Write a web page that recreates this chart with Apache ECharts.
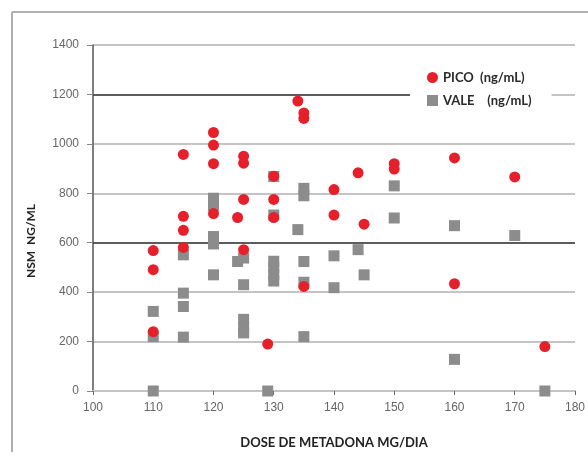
<!DOCTYPE html>
<html>
<head>
<meta charset="utf-8">
<script src="https://cdn.jsdelivr.net/npm/echarts@6/dist/echarts.min.js"></script>
<style>
  html, body { margin: 0; padding: 0; background: #fff; }
  #chart { width: 588px; height: 459px; }
</style>
</head>
<body>
<div id="chart"></div>
<script>
// dose de metadona (mg/dia) e NSM (ng/mL)
const picoDose = [110, 110, 110, 115, 115, 115, 115, 120, 120, 120, 120, 124, 125, 125, 125, 125, 129, 130, 130, 130,
  134, 135, 135, 135, 140, 140, 144, 145, 150, 150, 160, 160, 170, 175]
const picoNsm = [568, 491, 240, 957, 707, 650, 581, 1046, 995, 920, 718, 702, 950, 922, 775, 572, 190, 869, 775, 702,
  1173, 1125, 1103, 423, 815, 712, 883, 675, 920, 898, 943, 434, 866, 180]

const valeDose = [110, 110, 110, 115, 115, 115, 115, 120, 120, 120, 120, 120, 124, 125, 125, 125, 125, 125, 129,
  130, 130, 130, 130, 130, 130, 134, 135, 135, 135, 135, 135, 140, 140, 144, 145, 150, 150, 160, 160, 170, 175]
const valeNsm = [322, 220, 0, 551, 396, 342, 218, 780, 750, 625, 595, 470, 524, 538, 430, 290, 255, 235, 0,
  868, 712, 525, 500, 470, 445, 653, 820, 790, 524, 440, 220, 547, 418, 572, 470, 830, 700, 669, 128, 629, 0]

const seriesNames = ['PICO  (ng/mL)', 'VALE    (ng/mL)']
// linhas de referência: [valor, dose inicial, dose final]
const refLines = [[1200, 100, 152.8], [600, 100, 180]]

const zip = (xs, ys) => xs.map((x, i) => [x, ys[i]])

let chart = echarts.init(document.getElementById('chart'))

let option = {
  animation: false,
  backgroundColor: '#fff',
  grid: { left: 93, right: 11, top: 45, bottom: 68 },
  graphic: [
    { type: 'line', shape: { x1: 12, y1: 12, x2: 12, y2: 452 }, style: { stroke: '#b0b0b0', lineWidth: 2 } },
    { type: 'line', shape: { x1: 12, y1: 12, x2: 588, y2: 12 }, style: { stroke: '#b0b0b0', lineWidth: 2 } }
  ],
  legend: {
    data: seriesNames,
    orient: 'vertical',
    left: 410,
    top: 66,
    padding: [5, 20, 5, 17],
    itemGap: 10,
    itemWidth: 11,
    itemHeight: 11,
    backgroundColor: '#fff',
    textStyle: { fontFamily: 'Lato', fontSize: 13, fontWeight: 'bold', color: '#2b2b2b' }
  },
  xAxis: {
    type: 'value',
    min: 100,
    max: 180,
    interval: 10,
    name: 'DOSE DE METADONA MG/DIA',
    nameLocation: 'middle',
    nameGap: 45,
    nameTextStyle: { fontFamily: 'Lato', fontSize: 13, fontWeight: 'bold', color: '#222' },
    axisLine: { lineStyle: { color: '#c4c4c4', width: 2 } },
    axisTick: { show: true, length: 4, lineStyle: { color: '#666' } },
    axisLabel: { margin: 11, fontFamily: 'Liberation Sans', fontSize: 12, color: '#666' },
    splitLine: { show: false }
  },
  yAxis: {
    type: 'value',
    min: 0,
    max: 1400,
    interval: 200,
    name: 'NSM  NG/ML',
    nameLocation: 'middle',
    nameGap: 56,
    nameTextStyle: { fontFamily: 'Lato', fontSize: 12, fontWeight: 'bold', color: '#222', padding: [0, 0, 0, -46] },
    axisLine: { show: true, lineStyle: { color: '#555', width: 1.5 } },
    axisTick: { show: true, length: 6, lineStyle: { color: '#888' } },
    axisLabel: { margin: 14, fontFamily: 'Liberation Sans', fontSize: 12, color: '#666', formatter: v => String(v) },
    splitLine: { lineStyle: { color: '#c4c4c4', width: 2 } }
  },
  series: [
    {
      name: seriesNames[0],
      type: 'scatter',
      z: 3,
      symbol: 'circle',
      symbolSize: 11,
      itemStyle: { color: '#e5202b', opacity: 1 },
      data: zip(picoDose, picoNsm)
    },
    {
      name: seriesNames[1],
      type: 'scatter',
      z: 2,
      symbol: 'rect',
      symbolSize: 11,
      itemStyle: { color: '#8c8c8c', opacity: 1 },
      data: zip(valeDose, valeNsm),
      markLine: {
        silent: true,
        z: 1,
        symbol: 'none',
        label: { show: false },
        lineStyle: { color: '#3a3a3a', width: 1.5, type: 'solid' },
        data: refLines.map(([v, x0, x1]) => [{ coord: [x0, v] }, { coord: [x1, v] }])
      }
    }
  ]
}

chart.setOption(option)
</script>
</body>
</html>
